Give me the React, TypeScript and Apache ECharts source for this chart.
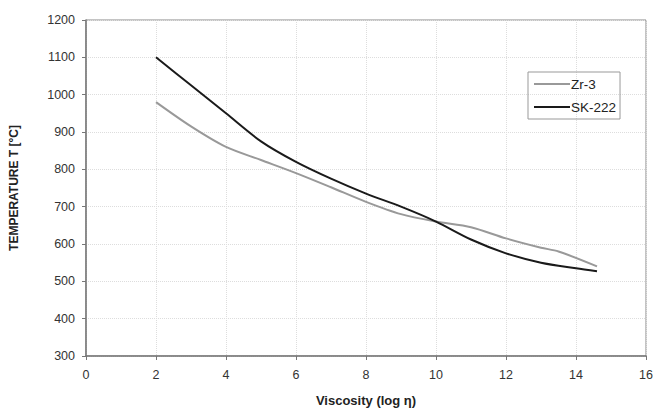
import React, { useEffect, useRef } from "react";
import * as echarts from "echarts";

const zr3X = [2, 3, 4, 5, 6, 7, 8, 9, 10, 11, 12, 13, 13.5, 14.6];
const zr3Y = [980, 915, 860, 825, 790, 752, 713, 680, 660, 645, 615, 590, 580, 540];
const skX = [2, 3, 4, 5, 6, 7, 8, 9, 10, 11, 12, 13, 14, 14.6];
const skY = [1100, 1025, 950, 875, 820, 775, 735, 700, 660, 612, 575, 550, 535, 527];

export default function App() {
  const ref = useRef<HTMLDivElement>(null);
  useEffect(() => {
    if (!ref.current) return;
    const chart = echarts.init(ref.current, null, { renderer: "svg" });
    const font = "Liberation Sans, Arial, sans-serif";
    chart.setOption({
      animation: false,
      textStyle: { fontFamily: font },
      grid: {
        left: 86,
        right: 7,
        top: 20,
        bottom: 52,
        show: true,
        borderColor: "#888",
        borderWidth: 1,
        outerBoundsMode: "none",
        containLabel: false,
      },
      legend: {
        left: 528,
        top: 72,
        orient: "vertical",
        itemWidth: 36,
        itemHeight: 2,
        itemGap: 9,
        padding: [5, 4, 5, 6],
        borderColor: "#999",
        borderWidth: 1,
        icon: "rect",
        textStyle: { fontSize: 13.5, color: "#222", fontFamily: font, padding: [0, 0, 0, -4] },
        data: ["Zr-3", "SK-222"],
      },
      xAxis: {
        type: "value",
        min: 0,
        max: 16,
        interval: 2,
        name: "Viscosity (log η)",
        nameLocation: "middle",
        nameGap: 38,
        nameTextStyle: { fontWeight: "bold", fontSize: 13, color: "#222" },
        axisLine: { lineStyle: { color: "#777", width: 1.5 } },
        axisTick: { show: true, length: 4, inside: false, lineStyle: { color: "#777" } },
        axisLabel: { fontSize: 12.5, color: "#333", margin: 12 },
        splitLine: { show: true, lineStyle: { color: "#ddd", type: "dotted" } },
      },
      yAxis: {
        type: "value",
        min: 300,
        max: 1200,
        interval: 100,
        name: "TEMPERATURE T [°C]",
        nameLocation: "middle",
        nameGap: 66,
        nameTextStyle: { fontWeight: "bold", fontSize: 12, color: "#222" },
        axisLine: { show: true, lineStyle: { color: "#777", width: 1.5 } },
        axisTick: { show: true, length: 4, inside: false, lineStyle: { color: "#777" } },
        axisLabel: { fontSize: 12.5, color: "#333", margin: 11, formatter: (v: number) => String(v) },
        splitLine: { show: true, lineStyle: { color: "#ddd", type: "dotted" } },
      },
      series: [
        {
          name: "Zr-3",
          type: "line",
          smooth: 0.3,
          showSymbol: false,
          symbol: "none",
          color: "#999",
          lineStyle: { color: "#999", width: 2 },
          data: zr3X.map((x, i) => [x, zr3Y[i]]),
        },
        {
          name: "SK-222",
          type: "line",
          smooth: 0.3,
          showSymbol: false,
          symbol: "none",
          color: "#1a1a1a",
          lineStyle: { color: "#1a1a1a", width: 2 },
          data: skX.map((x, i) => [x, skY[i]]),
        },
      ],
    });
    return () => chart.dispose();
  }, []);
  return <div ref={ref} style={{ width: 653, height: 408, position: "absolute", left: 0, top: 0 }} />;
}
